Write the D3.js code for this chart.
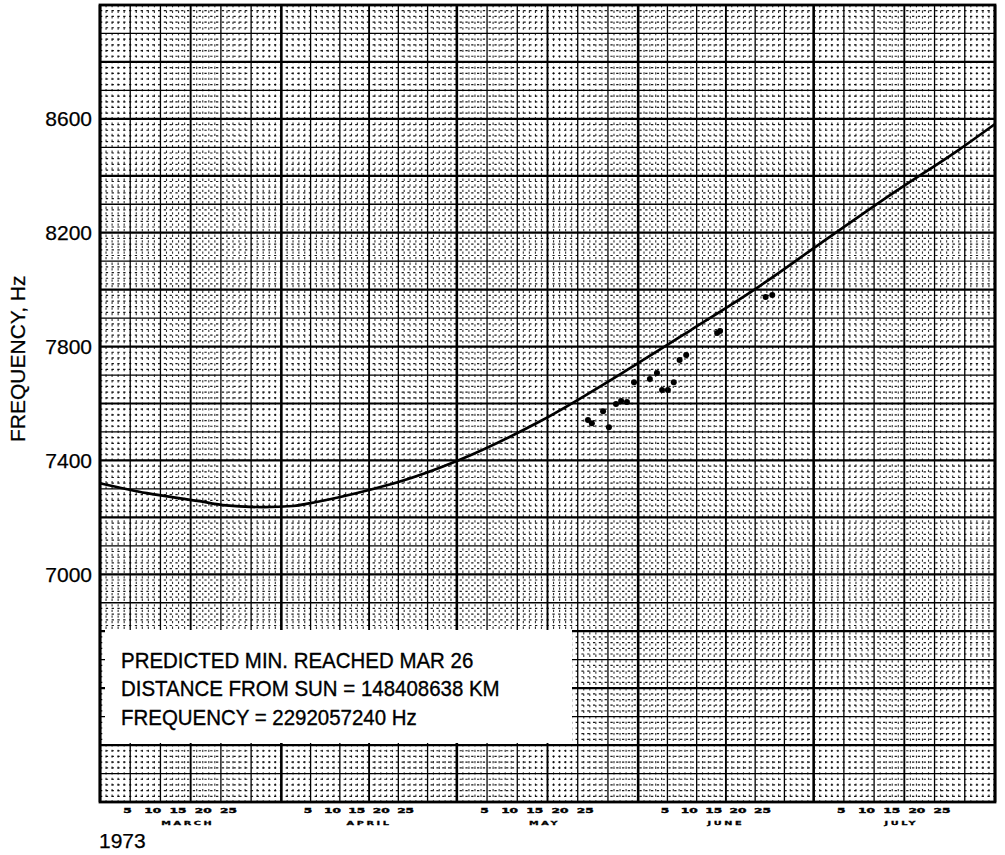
<!DOCTYPE html>
<meta charset="utf-8">
<style>
body { margin: 0; background: #fff; }
.minor-h { stroke: #000; stroke-width: 1.2; stroke-dasharray: 2.3,3.5; opacity: .9; }
.minor-v { stroke: #000; stroke-width: 1.1; stroke-dasharray: 2.3,3.3; opacity: .8; }
.major { stroke: #000; }
.curve { fill: none; stroke: #000; stroke-width: 2.7; }
.ylab { font: 21px "Liberation Sans", sans-serif; fill: #000; stroke: #000; stroke-width: 0.25; }
.note { font: 22px "Liberation Sans", sans-serif; fill: #000; stroke: #000; stroke-width: 0.35; }
.day { font: bold 9px "DejaVu Sans", sans-serif; fill: #000; stroke: #000; stroke-width: 0.5; }
.month { font: bold 7.5px "DejaVu Sans", sans-serif; fill: #000; letter-spacing: 2px; stroke: #000; stroke-width: 0.35; }
</style>
<svg width="1005" height="855"></svg>
<script src="https://d3js.org/d3.v7.min.js"></script>
<script>

var monthNames = ["MARCH", "APRIL", "MAY", "JUNE", "JULY"];
var dayTicks = [5, 10, 15, 20, 25];
var freqTicks = [7000, 7400, 7800, 8200, 8600];

// predicted frequency curve
var predDates = ["1973-03-01", "1973-03-09", "1973-03-18", "1973-03-22", "1973-03-29", "1973-04-03",
                 "1973-04-07", "1973-04-16", "1973-04-21", "1973-05-01", "1973-05-15", "1973-06-01",
                 "1973-06-10", "1973-06-21", "1973-07-02", "1973-07-15", "1973-07-26", "1973-08-01"];
var predFreq = [7320, 7285, 7257, 7243, 7236, 7240,
                7254, 7296, 7324, 7398, 7535, 7742,
                7858, 8002, 8160, 8345, 8494, 8582];

// observed points
var obsDates = ["1973-05-23T10:00", "1973-05-24T02:00", "1973-05-26T00:00", "1973-05-27T00:00",
                "1973-05-28T05:00", "1973-05-29T02:00", "1973-05-30T02:00", "1973-05-31T07:00",
                "1973-06-03T00:00", "1973-06-04T05:00", "1973-06-05T02:00", "1973-06-06T02:00",
                "1973-06-07T02:00", "1973-06-08T02:00", "1973-06-09T05:00", "1973-06-14T12:00",
                "1973-06-15T00:00", "1973-06-22T19:00", "1973-06-23T22:00"];
var obsFreq = [7542, 7531, 7573, 7517,
               7598, 7609, 7605, 7675,
               7686, 7707, 7647, 7647,
               7675, 7753, 7770, 7848,
               7855, 7974, 7981];

var noteLines = ["PREDICTED MIN. REACHED MAR 26",
                 "DISTANCE FROM SUN = 148408638 KM",
                 "FREQUENCY = 2292057240 Hz"];
var yearLabel = "1973";
var yTitle = "FREQUENCY, Hz";

var svg = d3.select("svg"),
    margin = {top: 5, right: 10, bottom: 53, left: 100},
    width = +svg.attr("width") - margin.left - margin.right,
    height = +svg.attr("height") - margin.top - margin.bottom,
    g = svg.append("g").attr("transform", "translate(" + margin.left + "," + margin.top + ")");

var parseDate = d3.isoParse;
var start = new Date(1973, 2, 1), end = new Date(1973, 7, 1);

var x = d3.scaleTime().domain([start, end]).range([0, width]),
    y = d3.scaleLinear().domain([6200, 9000]).range([height, 0]);

// grid: each month cut in 30 parts, lines every 20 Hz
var months = d3.timeMonth.range(start, end);
var vLines = [];
months.forEach(function(m) {
  var next = d3.timeMonth.offset(m, 1);
  for (var k = 0; k < 30; k++) vLines.push({t: new Date(+m + (next - m) * k / 30), k: k});
});
vLines.push({t: end, k: 0});
var hLines = d3.range(6200, 9001, 20);

var grid = g.append("g");
grid.selectAll(".minor-v")
    .data(vLines.filter(function(d) { return d.k % 5 != 0; }))
  .enter().append("line")
    .attr("class", "minor-v")
    .attr("x1", function(d) { return x(d.t); }).attr("x2", function(d) { return x(d.t); })
    .attr("y1", 0).attr("y2", height);
grid.selectAll(".minor-h")
    .data(hLines.filter(function(v) { return v % 100 != 0; }))
  .enter().append("line")
    .attr("class", "minor-h")
    .attr("x1", 0).attr("x2", width)
    .attr("y1", function(v) { return y(v); }).attr("y2", function(v) { return y(v); });
grid.selectAll(".major-v")
    .data(vLines.filter(function(d) { return d.k % 5 == 0; }))
  .enter().append("line")
    .attr("class", "major")
    .attr("x1", function(d) { return x(d.t); }).attr("x2", function(d) { return x(d.t); })
    .attr("y1", 0).attr("y2", height)
    .attr("stroke-width", function(d) { return d.k == 0 ? 2.6 : d.k == 15 ? 1.9 : 1.3; });
grid.selectAll(".major-h")
    .data(hLines.filter(function(v) { return v % 100 == 0; }))
  .enter().append("line")
    .attr("class", "major")
    .attr("x1", 0).attr("x2", width)
    .attr("y1", function(v) { return y(v); }).attr("y2", function(v) { return y(v); })
    .attr("stroke-width", function(v) { return v % 200 == 0 ? 2.2 : 1.3; });

g.append("rect")
    .attr("width", width).attr("height", height)
    .attr("fill", "none").attr("stroke", "#000").attr("stroke-width", 2.8);

// predicted curve
var pred = predDates.map(function(d, i) { return {t: parseDate(d), f: predFreq[i]}; });
var line = d3.line()
    .curve(d3.curveMonotoneX)
    .x(function(d) { return x(d.t); })
    .y(function(d) { return y(d.f); });
g.append("path").datum(pred).attr("class", "curve").attr("d", line);

// observations
var obs = obsDates.map(function(d, i) { return {t: parseDate(d), f: obsFreq[i]}; });
g.selectAll(".obs").data(obs)
  .enter().append("circle")
    .attr("class", "obs")
    .attr("cx", function(d) { return x(d.t); })
    .attr("cy", function(d) { return y(d.f); })
    .attr("r", 3)
    .attr("fill", "#000");

// y labels
g.selectAll(".ylab").data(freqTicks)
  .enter().append("text")
    .attr("class", "ylab")
    .attr("x", -8)
    .attr("y", function(v) { return y(v); })
    .attr("dy", "0.36em")
    .attr("text-anchor", "end")
    .text(function(v) { return v; });

svg.append("text")
    .attr("class", "ylab")
    .attr("transform", "translate(25,442) rotate(-90)")
    .attr("font-size", "20px")
    .text(yTitle);

// x labels: days and months
months.forEach(function(m, i) {
  var x0 = x(m), w = x(d3.timeMonth.offset(m, 1)) - x0;
  dayTicks.forEach(function(d) {
    var px = margin.left + x0 + w * (0.152 + (d - 5) * 0.0278);
    svg.append("text")
        .attr("class", "day")
        .attr("text-anchor", "middle")
        .attr("transform", "translate(" + px + ",813) scale(1.35,0.75)")
        .text(d);
  });
  svg.append("text")
      .attr("class", "month")
      .attr("text-anchor", "middle")
      .attr("transform", "translate(" + (margin.left + x(new Date(1973, m.getMonth(), 16))) + ",825) scale(1.3,0.75)")
      .text(monthNames[i]);
});

svg.append("text")
    .attr("class", "ylab")
    .attr("x", 99).attr("y", 848)
    .attr("font-size", "20px")
    .text(yearLabel);

// note box
svg.append("rect")
    .attr("x", 105).attr("y", 630)
    .attr("width", 467).attr("height", 113)
    .attr("fill", "#fff");
svg.append("g")
    .attr("transform", "translate(121,0) scale(0.93,1)")
  .selectAll(".note").data(noteLines)
  .enter().append("text")
    .attr("class", "note")
    .attr("x", 0)
    .attr("y", function(d, i) { return 668 + i * 28.5; })
    .text(function(d) { return d; });

</script>
